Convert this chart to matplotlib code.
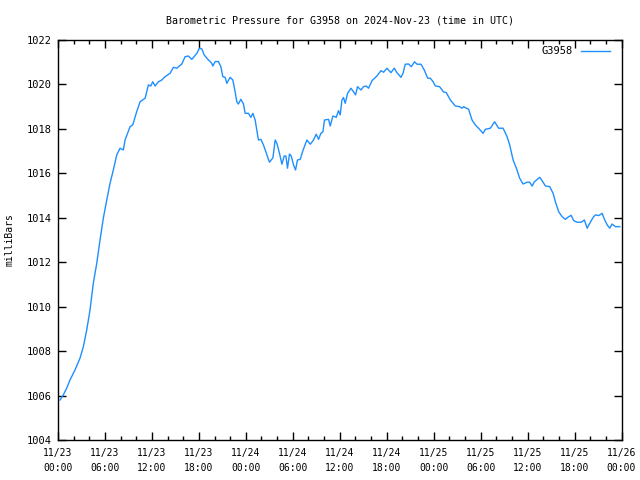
import matplotlib
matplotlib.use("Agg")
import matplotlib.pyplot as plt
from matplotlib.ticker import MultipleLocator

title = "Barometric Pressure for G3958 on 2024-Nov-23 (time in UTC)"
ylabel = "milliBars"
series_name = "G3958"

# hours since 2024-11-23 00:00 UTC
hours = [0.26, 0.68, 1.11, 1.53, 2.17, 2.81, 3.24, 3.67, 4.09, 4.51, 4.95, 5.37, 5.79, 6.23, 6.65,
         7.07, 7.51, 7.93, 8.35, 8.57, 9.21, 9.55, 10.06, 10.49, 11.13, 11.55, 11.85, 12.11, 12.40,
         12.83, 13.26, 13.68, 14.32, 14.74, 15.18, 15.82, 16.24, 16.66, 17.10, 17.74, 18.07, 18.38,
         18.67, 19.22, 19.44, 19.65, 19.78, 20.08, 20.50, 20.81, 21.06, 21.36, 21.57, 21.99, 22.34,
         22.63, 22.85, 23.05, 23.36, 23.70, 23.91, 24.34, 24.64, 24.90, 25.19, 25.61, 25.92, 26.25,
         26.69, 27.02, 27.46, 27.75, 27.97, 28.30, 28.61, 28.90, 29.12, 29.32, 29.58, 29.80, 30.09,
         30.35, 30.60, 30.95, 31.29, 31.80, 32.23, 32.65, 32.99, 33.29, 33.59, 33.85, 34.05, 34.57,
         34.78, 35.13, 35.55, 35.84, 36.06, 36.28, 36.48, 36.70, 37.00, 37.43, 37.76, 38.02, 38.27,
         38.71, 39.04, 39.39, 39.68, 40.12, 40.75, 41.27, 41.60, 42.03, 42.54, 42.97, 43.31, 43.82,
         44.08, 44.37, 44.80, 45.14, 45.56, 45.87, 46.38, 46.80, 47.23, 47.57, 47.92, 48.21, 48.76,
         49.23, 49.62, 50.13, 50.77, 51.32, 51.62, 51.83, 52.47, 52.90, 53.32, 53.87, 54.31, 54.60,
         55.24, 55.79, 56.30, 56.87, 57.38, 57.71, 58.15, 58.57, 58.99, 59.42, 59.94, 60.27, 60.58,
         60.87, 61.55, 61.85, 62.28, 62.83, 63.26, 63.55, 63.98, 64.41, 64.83, 65.13, 65.56, 65.90,
         66.33, 66.84, 67.26, 67.61, 67.94, 68.38, 68.67, 69.09, 69.53, 69.82, 70.17, 70.50, 70.80,
         71.23, 71.78]

pressure = [1005.80, 1006.03, 1006.33, 1006.70, 1007.15, 1007.68, 1008.20, 1008.95, 1009.85, 1011.05,
            1011.95, 1013.00, 1013.98, 1014.80, 1015.55, 1016.15, 1016.83, 1017.13, 1017.05, 1017.50,
            1018.10, 1018.18, 1018.78, 1019.22, 1019.38, 1019.98, 1019.93, 1020.12, 1019.93, 1020.12,
            1020.20, 1020.35, 1020.50, 1020.77, 1020.73, 1020.92, 1021.25, 1021.28, 1021.13, 1021.40,
            1021.63, 1021.60, 1021.33, 1021.10, 1021.03, 1020.95, 1020.83, 1021.03, 1021.03, 1020.80,
            1020.35, 1020.32, 1020.05, 1020.32, 1020.20, 1019.67, 1019.22, 1019.12, 1019.33, 1019.12,
            1018.70, 1018.70, 1018.52, 1018.70, 1018.40, 1017.50, 1017.53, 1017.28, 1016.83, 1016.50,
            1016.70, 1017.50, 1017.35, 1016.90, 1016.41, 1016.78, 1016.78, 1016.23, 1016.87, 1016.78,
            1016.38, 1016.15, 1016.60, 1016.63, 1017.02, 1017.50, 1017.31, 1017.50, 1017.76, 1017.53,
            1017.80, 1017.87, 1018.40, 1018.43, 1018.13, 1018.58, 1018.52, 1018.82, 1018.63, 1019.30,
            1019.41, 1019.15, 1019.60, 1019.83, 1019.67, 1019.53, 1019.90, 1019.75, 1019.90, 1019.93,
            1019.83, 1020.17, 1020.38, 1020.62, 1020.55, 1020.73, 1020.53, 1020.73, 1020.53, 1020.32,
            1020.50, 1020.91, 1020.92, 1020.80, 1021.02, 1020.91, 1020.91, 1020.65, 1020.28, 1020.28,
            1020.13, 1019.93, 1019.90, 1019.67, 1019.63, 1019.30, 1019.03, 1019.00, 1018.93, 1019.00,
            1018.88, 1018.40, 1018.18, 1017.98, 1017.80, 1017.98, 1018.03, 1018.32, 1018.03, 1018.03,
            1017.65, 1017.28, 1016.60, 1016.23, 1015.78, 1015.52, 1015.60, 1015.60, 1015.43, 1015.62,
            1015.82, 1015.67, 1015.43, 1015.40, 1015.10, 1014.72, 1014.27, 1014.05, 1013.93, 1014.02,
            1014.11, 1013.87, 1013.80, 1013.80, 1013.90, 1013.53, 1013.75, 1014.02, 1014.13, 1014.10,
            1014.20, 1013.93, 1013.68, 1013.53, 1013.72, 1013.60, 1013.60]

xtick_hours = [0, 6, 12, 18, 24, 30, 36, 42, 48, 54, 60, 66, 72]
xtick_labels = ["11/23\n00:00", "11/23\n06:00", "11/23\n12:00", "11/23\n18:00",
                "11/24\n00:00", "11/24\n06:00", "11/24\n12:00", "11/24\n18:00",
                "11/25\n00:00", "11/25\n06:00", "11/25\n12:00", "11/25\n18:00",
                "11/26\n00:00"]
yticks = [1004, 1006, 1008, 1010, 1012, 1014, 1016, 1018, 1020, 1022]

plt.rcParams['font.family'] = ['DejaVu Sans Mono']
plt.rcParams['font.size'] = 7

fig = plt.figure(figsize=(6.4, 4.8), dpi=100)
ax = fig.add_axes([58/640, 40/480, (621.5-58)/640, 400/480])

ax.plot(hours, pressure, color='#1e8fff', lw=1.0, label=series_name)
ax.set_xlim(0, 72)
ax.set_ylim(1004, 1022)
ax.set_xticks(xtick_hours)
ax.set_xticklabels(xtick_labels, linespacing=1.6)
ax.xaxis.set_minor_locator(MultipleLocator(2))
ax.set_yticks(yticks)
ax.tick_params(axis='both', which='major', direction='in', length=6, width=1,
               top=True, right=True, labelsize=7)
ax.tick_params(axis='x', which='major', pad=6)
ax.tick_params(axis='y', which='major', pad=4.3, labelsize=7.5)
ax.tick_params(axis='x', which='minor', direction='in', length=3, width=1, top=True)
for s in ax.spines.values():
    s.set_linewidth(1.0)

ax.set_title(title, fontsize=7.2, pad=12)
ax.set_ylabel(ylabel, fontsize=7)
ax.yaxis.set_label_coords(-0.077, 0.5)

leg = ax.legend(loc='upper right', bbox_to_anchor=(0.987, 0.995), frameon=False,
                fontsize=7.5, markerfirst=False, handlelength=2.8,
                borderaxespad=0, handletextpad=0.8)

fig.savefig('out.png', dpi=100)
